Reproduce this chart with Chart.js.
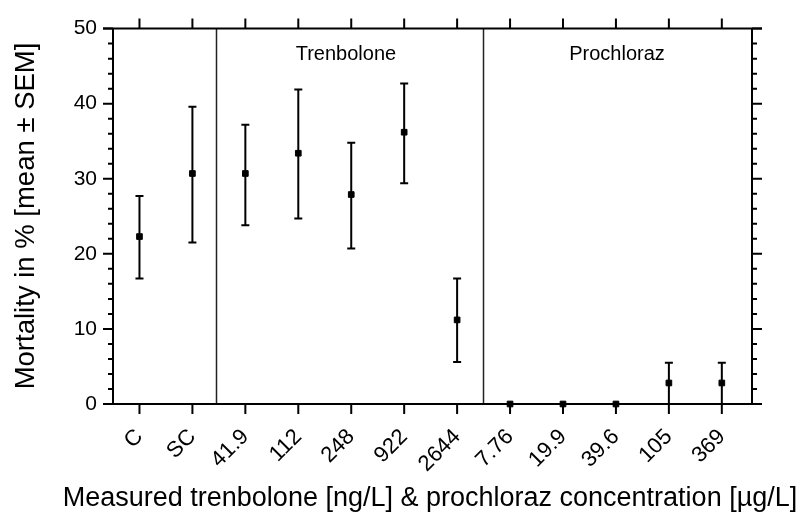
<!DOCTYPE html>
<html>
<head>
<meta charset="utf-8">
<script src="https://cdn.jsdelivr.net/npm/chart.js@4.4.0/dist/chart.umd.min.js"></script>
<style>
  html, body { margin: 0; padding: 0; background: #fff; }
  #wrap { width: 802px; height: 525px; }
</style>
</head>
<body>
<div id="wrap"><canvas id="my-chart" width="802" height="525"></canvas></div>
<script>
'use strict';

// ***** DATA *****
let concLabels = ['C', 'SC', '41.9', '112', '248', '922', '2644', '7.76', '19.9', '39.6', '105', '369'];
let mortality = [22.3, 30.7, 30.7, 33.4, 27.9, 36.2, 11.2, 0, 0, 0, 2.8, 2.8];
let semUpper = [27.7, 39.6, 37.2, 41.9, 34.8, 42.7, 16.7, 0, 0, 0, 5.5, 5.5];
let semLower = [16.7, 21.5, 23.8, 24.7, 20.7, 29.4, 5.6, 0, 0, 0, 0, 0];
let groupNames = ['Trenbolone', 'Prochloraz'];
let groupCenters = [3.9, 9.02];
let groupBounds = [1.45, 6.49];
let yMajorTicks = [0, 10, 20, 30, 40, 50];

// ***** STYLE *****
const FONT = '"Liberation Sans", Arial, sans-serif';
let ctx = document.getElementById('my-chart');

// **** HELPERS ****
function buildPoints() {
  let pts = [];
  for (let i = 0; i < mortality.length; i++) {
    pts.push({ x: i, y: mortality[i] });
  }
  return pts;
}

// error bars, group dividers and labels go under the markers
const errorBars = {
  id: 'errorBars',
  beforeDatasetsDraw(chart) {
    const c = chart.ctx;
    const { x, y } = chart.scales;
    const area = chart.chartArea;
    c.save();

    // dividers between groups
    c.lineWidth = 1.5;
    c.strokeStyle = '#222';
    for (let b of groupBounds) {
      let px = Math.round(x.getPixelForValue(b)) + 0.5;
      c.beginPath();
      c.moveTo(px, area.top);
      c.lineTo(px, area.bottom);
      c.stroke();
    }

    c.strokeStyle = '#000';
    c.lineWidth = 2;
    for (let i = 0; i < mortality.length; i++) {
      if (semUpper[i] === semLower[i]) continue;
      let px = x.getPixelForValue(i);
      let top = y.getPixelForValue(semUpper[i]);
      let bot = y.getPixelForValue(semLower[i]);
      c.beginPath();
      c.moveTo(px, top);
      c.lineTo(px, bot);
      c.moveTo(px - 4, top);
      c.lineTo(px + 4, top);
      c.moveTo(px - 4, bot);
      c.lineTo(px + 4, bot);
      c.stroke();
    }

    c.fillStyle = '#000';
    c.font = '20px ' + FONT;
    c.textAlign = 'center';
    c.textBaseline = 'alphabetic';
    for (let g = 0; g < groupNames.length; g++) {
      c.fillText(groupNames[g], x.getPixelForValue(groupCenters[g]), area.top + 31);
    }
    c.restore();
  }
};

// axis frame with outward ticks on all four sides, and the axis titles
const frame = {
  id: 'frame',
  afterDraw(chart) {
    const c = chart.ctx;
    const { x, y } = chart.scales;
    const a = chart.chartArea;
    c.save();
    c.strokeStyle = '#000';
    c.lineWidth = 2;
    c.lineCap = 'butt';

    c.beginPath();
    c.moveTo(a.left - 10, a.top); c.lineTo(a.right + 10, a.top);
    c.moveTo(a.left - 10, a.bottom); c.lineTo(a.right + 10, a.bottom);
    c.moveTo(a.left, a.top); c.lineTo(a.left, a.bottom);
    c.moveTo(a.right, a.top); c.lineTo(a.right, a.bottom);
    c.stroke();

    c.beginPath();
    for (let t of y.ticks) {
      let py = y.getPixelForValue(t.value);
      let len = yMajorTicks.includes(t.value) ? 10 : 5;
      c.moveTo(a.left, py); c.lineTo(a.left - len, py);
      c.moveTo(a.right, py); c.lineTo(a.right + len, py);
    }
    for (let t of x.ticks) {
      let px = x.getPixelForValue(t.value);
      c.moveTo(px, a.bottom); c.lineTo(px, a.bottom + 10);
      c.moveTo(px, a.top); c.lineTo(px, a.top - 10);
    }
    c.stroke();

    c.fillStyle = '#000';
    c.font = '27px ' + FONT;
    c.textAlign = 'center';
    c.textBaseline = 'alphabetic';
    c.fillText('Measured trenbolone [ng/L] & prochloraz concentration [\u00b5g/L]', 430, 506);

    c.font = '27.5px ' + FONT;
    c.translate(34, 216);
    c.rotate(-Math.PI / 2);
    c.fillText('Mortality in % [mean \u00b1 SEM]', 0, 0);
    c.restore();
  }
};

// **** CHART ****
let chartObj = {
  type: 'scatter',
  data: {
    datasets: [{
      data: buildPoints(),
      pointStyle: 'rect',
      pointRadius: 4,
      borderWidth: 1,
      backgroundColor: '#000',
      borderColor: '#000',
      showLine: false,
      clip: false
    }]
  },
  options: {
    responsive: false,
    animation: false,
    layout: { padding: { top: 19, right: 50, left: 0, bottom: 0 } },
    plugins: { legend: { display: false }, tooltip: { enabled: false } },
    scales: {
      x: {
        type: 'linear',
        min: -0.5,
        max: 11.57,
        afterBuildTicks: (scale) => {
          scale.ticks = concLabels.map((_, i) => ({ value: i }));
        },
        afterFit: (scale) => { scale.height = 121; },
        grid: { display: false, drawTicks: false },
        border: { display: false },
        ticks: {
          autoSkip: false,
          maxRotation: 45,
          minRotation: 45,
          padding: 20,
          color: '#000',
          font: { family: FONT, size: 22 },
          callback: (value) => concLabels[value]
        }
      },
      y: {
        min: 0,
        max: 50,
        afterBuildTicks: (scale) => {
          let t = [];
          for (let v = 0; v <= 50; v += 2) t.push({ value: v });
          scale.ticks = t;
        },
        afterFit: (scale) => { scale.width = 113; },
        grid: { display: false, drawTicks: false },
        border: { display: false },
        ticks: {
          autoSkip: false,
          padding: 16,
          color: '#000',
          font: { family: FONT, size: 21 },
          callback: (value) => (yMajorTicks.includes(value) ? String(value) : '')
        }
      }
    }
  },
  plugins: [errorBars, frame]
};

new Chart(ctx, chartObj);
</script>
</body>
</html>
